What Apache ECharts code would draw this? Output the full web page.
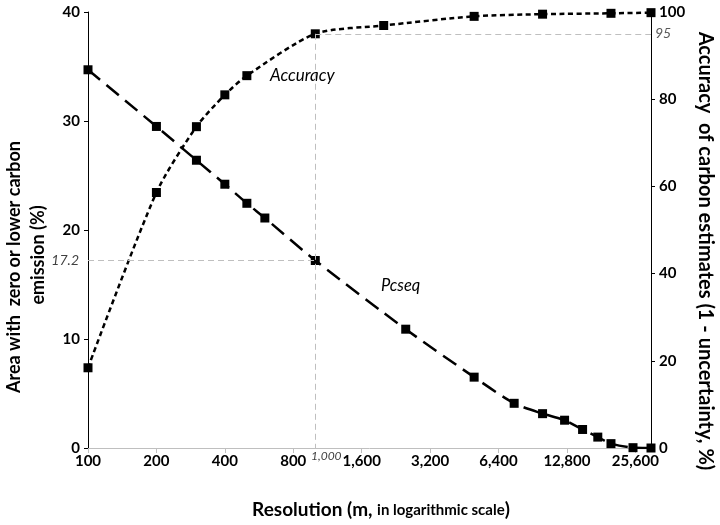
<!DOCTYPE html>
<html>
<head>
<meta charset="utf-8">
<script src="https://cdn.jsdelivr.net/npm/echarts@6/dist/echarts.min.js"></script>
<style>
  html, body { margin: 0; padding: 0; background: #fff; }
  #chart { width: 720px; height: 525px; }
</style>
</head>
<body>
<div id="chart"></div>
<script>
// Resolution (m) at which each series was evaluated
const resolutionAccuracy = [100, 200, 300, 400, 500, 1000, 2000, 5000, 10000, 20000, 30000];
const accuracy = [18.4, 58.6, 73.7, 81.0, 85.4, 95.0, 96.9, 99.0, 99.5, 99.7, 99.85];

const resolutionPcseq = [100, 200, 300, 400, 500, 600, 1000, 2500, 5000, 7500, 10000, 12500, 15000, 17500, 20000, 25000, 30000];
const pcseq = [34.7, 29.5, 26.4, 24.2, 22.45, 21.1, 17.2, 10.9, 6.5, 4.1, 3.15, 2.55, 1.7, 1.0, 0.4, 0.03, 0];

// Axis tick labels (one per doubling of resolution, starting at 100 m)
const xTickLabels = ['100', '200', '400', '800', '1,600', '3,200', '6,400', '12,800', '25,600'];
const xBase = 100;
const xMaxResolution = 30000;

// Reference values highlighted with guide lines
const refResolution = 1000;
const refPcseq = 17.2;
const refAccuracy = 95;

// Positions on a base-2 logarithmic scale (number of doublings from 100 m)
const toLog = r => Math.log2(r / xBase);

const FONT = 'Lato, "Open Sans", sans-serif';

const chart = echarts.init(document.getElementById('chart'), null, { renderer: 'canvas' });

const guideStyle = { color: '#bfbfbf', type: [6, 4], width: 1 };
const guideLabel = { fontFamily: FONT, fontStyle: 'italic', fontSize: 14, color: '#404040' };
const tickFont = { fontFamily: FONT, fontWeight: 'bold', fontSize: 15, color: '#000' };

chart.setOption({
  backgroundColor: '#ffffff',
  animation: false,
  grid: { left: 88, right: 69, top: 12, bottom: 77, outerBoundsMode: 'none' },
  xAxis: {
    type: 'value',
    min: 0,
    max: toLog(xMaxResolution),
    interval: 1,
    axisLine: { lineStyle: { color: '#bfbfbf', width: 1 } },
    axisTick: { show: true, length: 5, lineStyle: { color: '#bfbfbf' } },
    splitLine: { show: false },
    axisLabel: Object.assign({
      showMaxLabel: false,
      margin: 6,
      formatter: v => {
        const i = Math.round(v);
        return Math.abs(v - i) < 1e-6 && xTickLabels[i] !== undefined ? xTickLabels[i] : '';
      }
    }, tickFont)
  },
  yAxis: [
    {
      type: 'value', min: 0, max: 40, interval: 10,
      axisLine: { show: true, lineStyle: { color: '#000', width: 1 } },
      axisTick: { show: true, length: 4, lineStyle: { color: '#000' } },
      splitLine: { show: false },
      axisLabel: Object.assign({ margin: 8 }, tickFont)
    },
    {
      type: 'value', min: 0, max: 100, interval: 20, position: 'right',
      axisLine: { show: true, lineStyle: { color: '#000', width: 1 } },
      axisTick: { show: true, length: 4, lineStyle: { color: '#000' } },
      splitLine: { show: false },
      axisLabel: Object.assign({ margin: 8 }, tickFont)
    }
  ],
  series: [
    {
      name: 'Pcseq',
      type: 'line',
      yAxisIndex: 0,
      smooth: 0.25,
      symbol: 'rect',
      symbolSize: 9,
      itemStyle: { color: '#000' },
      lineStyle: { color: '#000', width: 2.5, type: [16, 8] },
      data: resolutionPcseq.map((r, i) => [toLog(r), pcseq[i]]),
      z: 3,
      markLine: {
        silent: true,
        symbol: ['none', 'none'],
        lineStyle: guideStyle,
        label: Object.assign({ position: 'start', distance: 9, formatter: String(refPcseq) }, guideLabel),
        data: [[
          { coord: [0, refPcseq] },
          { coord: [toLog(refResolution), refPcseq] }
        ]]
      }
    },
    {
      name: 'Accuracy',
      type: 'line',
      yAxisIndex: 1,
      smooth: 0.25,
      symbol: 'rect',
      symbolSize: 9,
      itemStyle: { color: '#000' },
      lineStyle: { color: '#000', width: 2.5, type: [5, 3.5] },
      data: resolutionAccuracy.map((r, i) => [toLog(r), accuracy[i]]),
      z: 3,
      markLine: {
        silent: true,
        symbol: ['none', 'none'],
        lineStyle: guideStyle,
        data: [
          [
            { coord: [toLog(refResolution), refAccuracy],
              label: Object.assign({}, guideLabel, { position: 'end', distance: 4, formatter: String(refAccuracy), color: '#595959' }) },
            { coord: [toLog(xMaxResolution), refAccuracy] }
          ],
          [
            { coord: [toLog(refResolution), refAccuracy], label: { show: false } },
            { coord: [toLog(refResolution), 0] }
          ]
        ]
      }
    }
  ],
  graphic: [
    // series names written next to their curves
    { type: 'text', left: 270, top: 67, style: { text: 'Accuracy', fontFamily: FONT, fontStyle: 'italic', fontSize: 17, fill: '#000' } },
    { type: 'text', left: 381, top: 277, style: { text: 'Pcseq', fontFamily: FONT, fontStyle: 'italic', fontSize: 16.5, fill: '#000' } },
    // left axis title (two lines)
    { type: 'text', x: 14, y: 267, rotation: Math.PI / 2,
      style: { text: 'Area with  zero or lower carbon', fontFamily: FONT, fontWeight: 'bold', fontSize: 18, fill: '#000', align: 'center', verticalAlign: 'middle' } },
    { type: 'text', x: 38, y: 255, rotation: Math.PI / 2,
      style: { text: 'emission (%)', fontFamily: FONT, fontWeight: 'bold', fontSize: 18, fill: '#000', align: 'center', verticalAlign: 'middle' } },
    // right axis title
    { type: 'text', x: 705, y: 251, rotation: -Math.PI / 2,
      style: { text: 'Accuracy  of carbon estimates (1 - uncertainty, %)', fontFamily: FONT, fontWeight: 'bold', fontSize: 20, fill: '#000', align: 'center', verticalAlign: 'middle' } },
    // x axis title
    { type: 'text', x: 381, y: 510,
      style: {
        text: '{a|Resolution (m, }{b|in logarithmic scale}{a|)}',
        align: 'center', verticalAlign: 'middle',
        rich: {
          a: { fontFamily: FONT, fontWeight: 'bold', fontSize: 19, fill: '#000', color: '#000' },
          b: { fontFamily: FONT, fontWeight: 'bold', fontSize: 15, fill: '#000', color: '#000' }
        }
      } }
  ]
});

// Label for the reference resolution, placed just right of its guide line under the axis
const refPx = chart.convertToPixel({ xAxisIndex: 0, yAxisIndex: 0 }, [toLog(refResolution), 0]);
chart.setOption({
  graphic: [{
    type: 'text', id: 'refResolutionLabel',
    x: refPx[0] + 11, y: refPx[1] + 2,
    style: {
      text: refResolution.toLocaleString('en-US'),
      fontFamily: FONT, fontStyle: 'italic', fontSize: 12, fill: '#404040',
      align: 'center', verticalAlign: 'top'
    }
  }]
});
</script>
</body>
</html>
